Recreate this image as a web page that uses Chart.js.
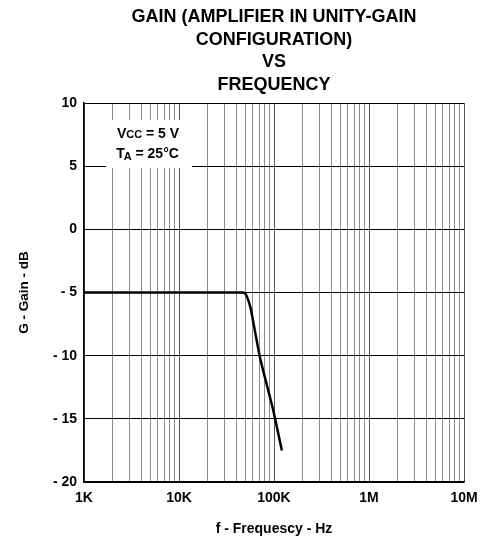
<!DOCTYPE html>
<html>
<head>
<meta charset="utf-8">
<script src="https://cdn.jsdelivr.net/npm/chart.js@4/dist/chart.umd.min.js"></script>
<style>
  html, body { margin: 0; padding: 0; background: #fff; }
  #wrap { width: 488px; height: 540px; }
</style>
</head>
<body>
<div id="wrap"><canvas id="gain-chart" width="488" height="540"></canvas></div>
<script>
'use strict';

// curve
var freqs = [1000, 10000, 47000, 50000, 53000, 57000, 71000, 98000, 121000];
var gains = [-5, -5, -5, -5.1, -5.5, -6.3, -10.1, -14.3, -17.5];

var decades = [1000, 10000, 100000, 1000000, 10000000];
var decadeLabels = ['1K', '10K', '100K', '1M', '10M'];
var gainTicks = [-20, -15, -10, -5, 0, 5, 10];
var titleLines = ['GAIN (AMPLIFIER IN UNITY-GAIN', 'CONFIGURATION)', 'VS', 'FREQUENCY'];

var FONT = '"Liberation Sans", Arial, sans-serif';

var points = [];
for (var i = 0; i < freqs.length; i++) {
    points.push({x: freqs[i], y: gains[i]});
}

// every 1..9 step inside each decade, for the log grid
var gridTicks = [];
for (var d = 0; d < decades.length - 1; d++) {
    for (var m = 1; m < 10; m++) {
        gridTicks.push({value: decades[d] * m});
    }
}
gridTicks.push({value: decades[decades.length - 1]});

var isDecade = function(v) {
    return decades.indexOf(Math.round(v)) !== -1;
};

// white box with the test conditions
var conditionsBox = {
    id: 'conditionsBox',
    beforeDatasetsDraw: function(chart) {
        var ctx = chart.ctx;
        var a = chart.chartArea;
        var x0 = a.left + 22, y0 = a.top + 17;
        ctx.save();
        ctx.fillStyle = '#fff';
        ctx.fillRect(x0, y0, 86, 48);
        ctx.fillStyle = '#000';
        ctx.textBaseline = 'middle';
        var cx = x0 + 42;
        // Vcc = 5 V
        var big = 'bold 14px ' + FONT, small = 'bold 11px ' + FONT;
        ctx.font = big; var w1 = ctx.measureText('V').width;
        ctx.font = small; var w2 = ctx.measureText('CC').width;
        ctx.font = big; var w3 = ctx.measureText(' = 5 V').width;
        var sx = cx - (w1 + w2 + w3) / 2, ly = y0 + 14;
        ctx.font = big; ctx.fillText('V', sx, ly);
        ctx.font = small; ctx.fillText('CC', sx + w1, ly + 1);
        ctx.font = big; ctx.fillText(' = 5 V', sx + w1 + w2, ly);
        // TA = 25°C
        ctx.font = big; var t1 = ctx.measureText('T').width;
        ctx.font = small; var t2 = ctx.measureText('A').width;
        ctx.font = big; var t3 = ctx.measureText(' = 25°C').width;
        sx = cx - (t1 + t2 + t3) / 2; ly = y0 + 34;
        ctx.font = big; ctx.fillText('T', sx, ly);
        ctx.font = small; ctx.fillText('A', sx + t1 - 1, ly + 3);
        ctx.font = big; ctx.fillText(' = 25°C', sx + t1 + t2 - 1, ly);
        ctx.restore();
    }
};

var ctx = document.getElementById('gain-chart').getContext('2d');
var gainChart = new Chart(ctx, {
    type: 'line',
    data: {
        datasets: [{
            data: points,
            borderColor: '#000',
            borderWidth: 2.5,
            pointRadius: 0,
            tension: 0.2,
            fill: false
        }]
    },
    options: {
        responsive: false,
        animation: false,
        layout: {padding: {top: 6, right: 24, left: 0, bottom: 0}},
        plugins: {
            legend: {display: false},
            tooltip: {enabled: false},
            title: {
                display: true,
                text: titleLines,
                fullSize: false,
                color: '#000',
                font: {family: FONT, size: 18, weight: 'bold', lineHeight: 1.25},
                padding: {top: 0, bottom: 7}
            }
        },
        scales: {
            x: {
                type: 'logarithmic',
                min: 1000,
                max: 10000000,
                afterBuildTicks: function(scale) { scale.ticks = gridTicks.slice(); },
                afterFit: function(scale) { scale.height = 58; },
                border: {color: '#000', width: 1.5},
                grid: {
                    drawTicks: false,
                    color: function(c) { return isDecade(c.tick.value) ? '#555' : '#888'; },
                    lineWidth: 1
                },
                ticks: {
                    autoSkip: false,
                    maxRotation: 0,
                    padding: 8,
                    color: '#000',
                    font: {family: FONT, size: 14, weight: 'bold'},
                    callback: function(v) {
                        var k = decades.indexOf(Math.round(v));
                        return k === -1 ? '' : decadeLabels[k];
                    }
                },
                title: {
                    display: true,
                    text: 'f - Frequescy - Hz',
                    color: '#000',
                    font: {family: FONT, size: 14, weight: 'bold'},
                    padding: {top: 18, bottom: 2}
                }
            },
            y: {
                min: -20,
                max: 10,
                afterBuildTicks: function(scale) {
                    scale.ticks = gainTicks.map(function(v) { return {value: v}; });
                },
                afterFit: function(scale) { scale.width = 84; },
                border: {color: '#000', width: 1.5},
                grid: {drawTicks: false, color: '#000', lineWidth: 1},
                ticks: {
                    padding: 7,
                    color: '#000',
                    font: {family: FONT, size: 14, weight: 'bold'},
                    callback: function(v) { return v < 0 ? '- ' + Math.abs(v) : '' + v; }
                },
                title: {
                    display: true,
                    text: 'G - Gain - dB',
                    color: '#000',
                    font: {family: FONT, size: 13.5, weight: 'bold'},
                    padding: {top: 16, bottom: 10}
                }
            }
        }
    },
    plugins: [conditionsBox]
});
</script>
</body>
</html>
